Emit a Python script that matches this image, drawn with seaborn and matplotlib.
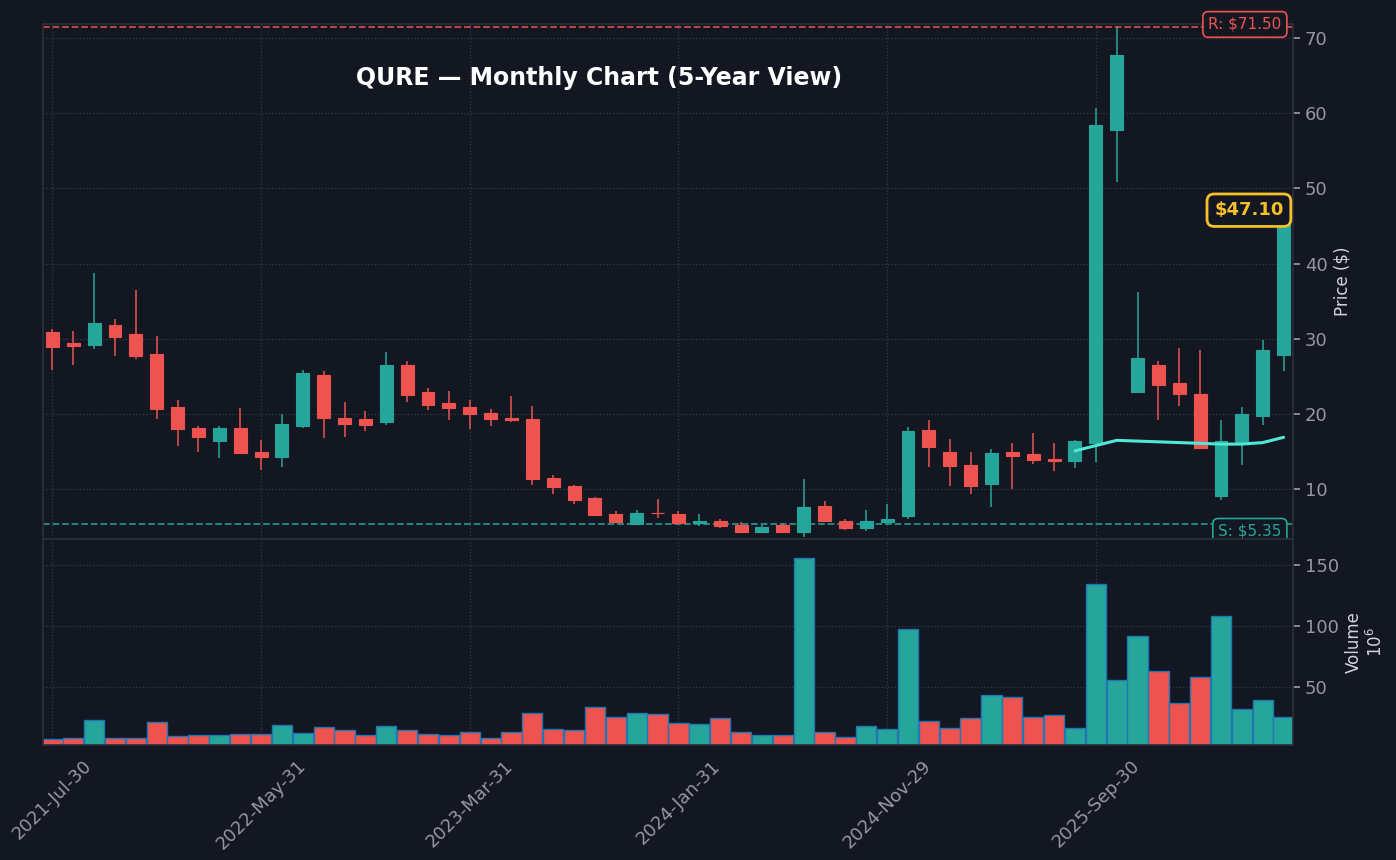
import numpy as np
import pandas as pd
import matplotlib
matplotlib.use("Agg")
import matplotlib.pyplot as plt
import seaborn as sns

opens = [30.9, 29.4, 29.2, 31.9, 30.6, 28.0, 20.9, 18.1, 16.4, 18.1,
         14.9, 14.3, 18.4, 25.2, 19.5, 19.4, 18.9, 26.5, 22.9, 21.4,
         20.9, 20.1, 19.5, 19.3, 11.5, 10.4, 8.8, 6.7, 5.4, 6.9,
         6.7, 5.5, 5.8, 5.2, 4.3, 5.2, 4.3, 7.8, 5.8, 4.9,
         5.6, 6.4, 17.9, 15.0, 13.2, 10.7, 14.9, 14.7, 14.0, 13.8,
         16.2, 57.8, 22.9, 26.5, 24.1, 22.7, 9.1, 16.2, 19.7, 27.9]
closes = [28.9, 29.1, 32.1, 30.3, 27.7, 20.7, 18.0, 16.9, 18.1, 14.8,
          14.3, 18.7, 25.4, 19.5, 18.7, 18.6, 26.5, 22.5, 21.2, 20.8,
          20.0, 19.3, 19.2, 11.3, 10.3, 8.6, 6.6, 5.6, 6.8, 6.8,
          5.5, 5.8, 5.1, 4.3, 5.0, 4.3, 7.6, 5.8, 4.9, 5.8,
          6.0, 17.8, 15.6, 13.1, 10.4, 14.8, 14.4, 13.9, 13.75, 16.4,
          58.4, 67.7, 27.5, 23.8, 22.7, 15.5, 16.4, 20.0, 28.5, 47.1]
highs = [31.3, 31.1, 38.8, 32.7, 36.5, 30.4, 21.8, 18.4, 18.4, 20.8,
         16.5, 20.0, 25.8, 25.7, 21.6, 20.4, 28.2, 27.1, 23.4, 23.0,
         21.9, 20.7, 22.4, 21.0, 11.9, 10.6, 8.9, 7.1, 7.3, 8.7,
         7.1, 6.7, 6.0, 5.6, 5.2, 5.5, 11.3, 8.4, 6.0, 7.2,
         8.0, 18.3, 19.2, 16.7, 14.9, 15.3, 16.2, 17.5, 16.2, 16.6,
         60.7, 71.6, 36.2, 27.0, 28.8, 28.5, 19.2, 20.9, 29.8, 47.1]
lows = [25.8, 26.5, 28.7, 27.7, 27.3, 19.4, 15.8, 15.0, 14.2, 14.8,
        12.6, 12.9, 18.2, 16.8, 16.9, 17.8, 18.5, 21.6, 20.5, 19.2,
        18.0, 18.4, 18.9, 10.5, 9.3, 8.1, 6.6, 5.5, 5.4, 6.2,
        5.5, 5.1, 4.8, 4.2, 4.3, 4.2, 3.7, 5.7, 4.6, 4.4,
        5.4, 6.1, 13.0, 10.4, 9.3, 7.7, 10.0, 13.4, 12.4, 12.8,
        13.6, 50.8, 22.8, 19.2, 21.1, 15.5, 8.6, 13.2, 18.6, 25.7]
volumes = [7.4, 8.5, 23.0, 8.2, 8.2, 21.3, 9.8, 10.7, 10.7, 11.5,
           11.5, 18.9, 12.3, 17.2, 14.8, 10.7, 18.0, 14.8, 11.5, 10.7,
           13.1, 8.2, 13.1, 28.7, 15.6, 14.8, 33.6, 25.4, 28.7, 27.9,
           20.5, 19.7, 25.1, 13.6, 11.2, 11.2, 156.0, 13.6, 9.5, 18.5,
           15.6, 98.0, 22.7, 17.0, 25.1, 43.4, 42.3, 26.0, 27.6, 17.0,
           135.0, 56.3, 92.3, 63.7, 37.4, 58.2, 108.7, 32.5, 39.9, 26.0]
ma_idx = [49, 50, 51, 52, 53, 54, 55, 56, 57, 58, 59]
ma_vals = [15.1, 15.8, 16.5, 16.4, 16.3, 16.2, 16.1, 16.0, 16.0, 16.2, 16.9]
tick_pos = [0, 10, 20, 30, 40, 50]
resistance = 71.50
support = 5.35
last_price = 47.10
title = "QURE — Monthly Chart (5-Year View)"

dates = pd.date_range("2021-07-01", periods=len(opens), freq="BME")
tick_labels = [dates[i].strftime("%Y-%b-%d") for i in tick_pos]

BG = "#131722"
UP = "#26a69a"
DN = "#ef5350"
GRID = "#2a2e39"
TXT = "#9598a1"

sns.set_theme(style="dark")
plt.rcParams["font.family"] = ["DejaVu Sans"]

fig = plt.figure(figsize=(13.96, 8.6), dpi=100, facecolor=BG)
ax = fig.add_axes([43/1396, 1-539/860, 1250/1396, 515/860])
axv = fig.add_axes([43/1396, 1-745/860, 1250/1396, 206/860], sharex=ax)

x = np.arange(len(opens))
o = np.array(opens); c = np.array(closes)
up = c >= o
cols = [UP if u else DN for u in up]

for a in (ax, axv):
    a.set_facecolor(BG)
    for s in a.spines.values():
        s.set_color(GRID)
    a.grid(True, color="#363a45", linestyle=":", linewidth=0.9)
    a.yaxis.tick_right()
    a.yaxis.set_label_position("right")
    a.tick_params(colors=TXT, labelsize=13, length=5)

ax.vlines(x, lows, highs, colors=cols, linewidth=1.1, zorder=2)
ax.bar(x, np.abs(c - o), bottom=np.minimum(o, c), width=0.62,
       color=cols, edgecolor=cols, linewidth=0.8, zorder=3)
sns.lineplot(x=ma_idx, y=ma_vals, ax=ax, color="#4de8d6", linewidth=2.2, zorder=4)

ax.axhline(resistance, color=DN, linestyle="--", linewidth=1.3, alpha=0.85)
ax.axhline(support, color=UP, linestyle="--", linewidth=1.3, alpha=0.85)
ax.text(58.9, resistance + 0.3, f"R: ${resistance:.2f}", color=DN, fontsize=11,
        ha="right", va="center", zorder=6,
        bbox=dict(boxstyle="round,pad=0.35", fc=BG, ec=DN, lw=1.2))
ax.text(58.9, support - 0.95, f"S: ${support:.2f}", color=UP, fontsize=11,
        ha="right", va="center", zorder=6,
        bbox=dict(boxstyle="round,pad=0.35", fc=BG, ec=UP, lw=1.2))
ax.text(59.0, last_price, f"${last_price:.2f}", color="#f5c02a", fontsize=13,
        fontweight="bold", ha="right", va="center", zorder=6,
        bbox=dict(boxstyle="round,pad=0.4", fc=BG, ec="#f5c02a", lw=2))

ax.set_ylim(3.38, 71.86)
ax.set_xlim(-0.45, 59.45)
ax.set_yticks([10, 20, 30, 40, 50, 60, 70])
ax.set_ylabel("Price ($)", color="#d1d4dc", fontsize=12)
ax.tick_params(axis="x", labelbottom=False, length=0)
ax.text(0.445, 0.895, title, transform=ax.transAxes, color="white",
        fontsize=17, fontweight="bold", ha="center", va="center")

axv.bar(x, volumes, width=0.97, color=cols, edgecolor="#1f77b4", linewidth=1.0)
axv.set_ylim(2.7, 171.6)
axv.set_yticks([50, 100, 150])
axv.set_ylabel("Volume\n$10^6$", color="#d1d4dc", fontsize=12)
axv.set_xticks(tick_pos)
axv.set_xticklabels(tick_labels, rotation=45, ha="center")

fig.savefig("out.png", dpi=100, facecolor=BG)
